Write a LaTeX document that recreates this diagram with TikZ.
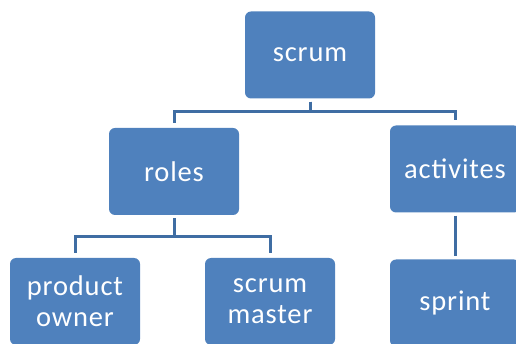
\documentclass[tikz,border=0pt]{standalone}
\usepackage{fontspec}
\setmainfont{Carlito}[LetterSpace=3]
\definecolor{boxblue}{HTML}{4F81BD}
\definecolor{linkblue}{HTML}{3F6DA3}
\begin{document}
\begin{tikzpicture}[x=1pt,y=-1pt,
  box/.style={fill=boxblue, rounded corners=6pt, minimum width=130pt,
    minimum height=87pt, inner sep=0pt, text=white, align=center,
    font=\fontsize{28.5}{31}\selectfont},
  link/.style={draw=linkblue, line width=3pt, shorten <=3pt, shorten >=5pt}]
\useasboundingbox (0,0) rectangle (516,344);
% top level
\node[box] (scrum) at (310,55) {scrum};
% second level
\node[box] (roles) at (174,171.5) {roles};
\node[box] (act) at (455,169) {activites};
% third level
\node[box] (po) at (75,301.5) {product\\owner};
\node[box] (sm) at (270,301.5) {scrum\\master};
\node[box] (sprint) at (455,303) {sprint};
% tree connectors
\draw[link] (scrum.south) -- ++(0,13) -| (roles.north);
\draw[link] (scrum.south) -- ++(0,13) -| (act.north);
\draw[link] (roles.south) -- ++(0,21) -| (po.north);
\draw[link] (roles.south) -- ++(0,21) -| (sm.north);
\draw[link] (act.south) -- ([yshift=-1.5pt]sprint.north);
\end{tikzpicture}
\end{document}
